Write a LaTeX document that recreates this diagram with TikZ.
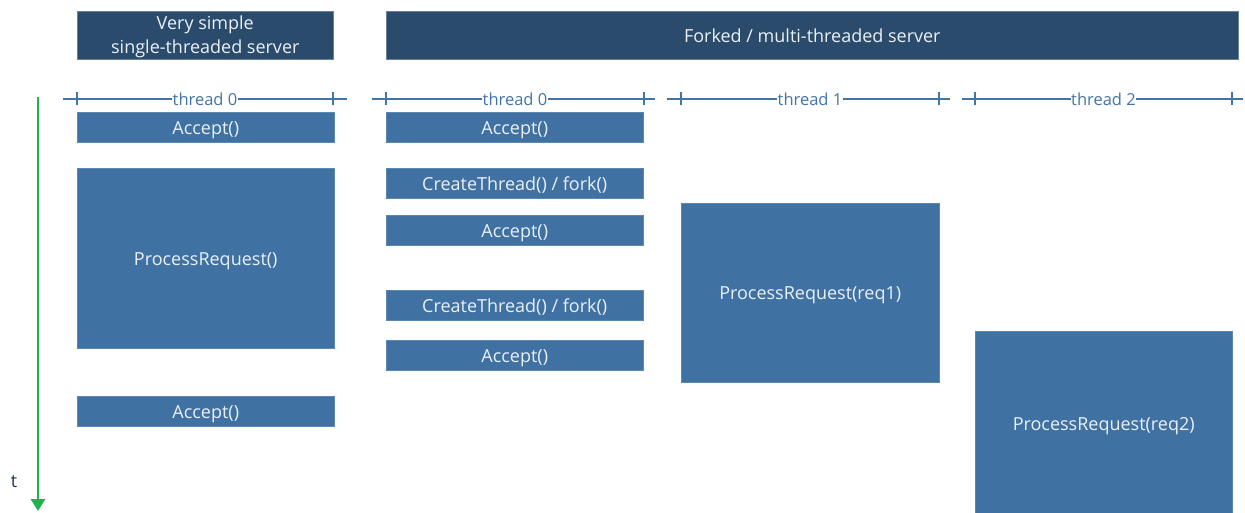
\documentclass[tikz,border=0pt]{standalone}
\usepackage{fontspec}
\setmainfont{Open Sans}
\usetikzlibrary{arrows.meta,calc}
\definecolor{hdr}{HTML}{2A4B6C}
\definecolor{blk}{HTML}{3F72A3}
\definecolor{lane}{HTML}{4374A6}
\definecolor{txt}{HTML}{EAF0F6}
\definecolor{timegreen}{HTML}{1DB24E}
\tikzset{
  header/.style={fill=hdr, draw=hdr!70!white, line width=0.6pt, text=txt, font=\fontsize{18}{24}\selectfont, align=center, inner sep=0pt},
  block/.style={fill=blk, draw=blk!85!white, line width=0.5pt, text=txt, font=\fontsize{18}{21}\selectfont, inner sep=0pt, text height=18pt, text depth=4pt},
  laneline/.style={draw=lane, line width=2.4pt},
  lanetick/.style={draw=lane, line width=2.4pt},
  lanelabel/.style={fill=white, text=lane, font=\fontsize{16.5}{18}\selectfont, inner sep=0.5pt},
}
\begin{document}
\begin{tikzpicture}[x=1pt, y=-1pt]
\useasboundingbox (0,0) rectangle (1245,512);

% headers
\fill[hdr] (77,11) rectangle (333,59);
\node[header, minimum width=256, minimum height=48, anchor=north west, fill=none, draw=none] (h1) at (77,13) {Very simple\\single-threaded server};
\draw[hdr!70!white, line width=0.6pt] (77,11) rectangle (333,59);
\node[header, minimum width=852, minimum height=48, anchor=north west] (h2) at (386,11) {Forked / multi-threaded server};

% time axis
\coordinate (t0) at (38,97);
\coordinate (t1) at (38,511);
\draw[timegreen, line width=2.8pt, -{Triangle[length=12pt, width=14pt]}] (t0) -- (t1);
\node[text=hdr!70!black, font=\fontsize{18}{20}\selectfont] (tl) at (14,482) {t};

% thread lanes
\foreach \nm/\a/\b/\la/\lb/\lbl in {l0/63/347/77/333/thread 0, r0/372/655/386/644/thread 0, r1/667/950/681/939/thread 1, r2/962/1243/975/1232/thread 2}{
  \coordinate (\nm-s) at (\a,99);
  \coordinate (\nm-e) at (\b,99);
  \draw[laneline] (\nm-s) -- (\nm-e);
  \coordinate (\nm-ta) at (\la,99);
  \coordinate (\nm-tb) at (\lb,99);
  \draw[lanetick] ([yshift=-6pt]\nm-ta) -- ([yshift=7pt]\nm-ta);
  \draw[lanetick] ([yshift=-6pt]\nm-tb) -- ([yshift=7pt]\nm-tb);
  \node[lanelabel] (\nm-lbl) at ($(\nm-ta)!0.5!(\nm-tb)$) {\lbl};
}

% single-threaded column
\node[block, minimum width=257, minimum height=30, anchor=north west] (sa1) at (77,112) {Accept()};
\node[block, minimum width=257, minimum height=180, anchor=north west] (sp) at (77,168) {ProcessRequest()};
\node[block, minimum width=257, minimum height=30, anchor=north west] (sa2) at (77,396) {Accept()};

% multi-threaded: thread 0
\node[block, minimum width=257, minimum height=30, anchor=north west] (ma1) at (386,112) {Accept()};
\node[block, minimum width=257, minimum height=30, anchor=north west] (mc1) at (386,168) {CreateThread() / fork()};
\node[block, minimum width=257, minimum height=30, anchor=north west] (ma2) at (386,215) {Accept()};
\node[block, minimum width=257, minimum height=30, anchor=north west] (mc2) at (386,290) {CreateThread() / fork()};
\node[block, minimum width=257, minimum height=30, anchor=north west] (ma3) at (386,340) {Accept()};

% thread 1 and thread 2
\node[block, minimum width=258, minimum height=179, anchor=north west] (p1) at (681,203) {ProcessRequest(req1)};
\node[block, minimum width=257, minimum height=185, anchor=north west] (p2) at (975,331) {ProcessRequest(req2)};
\end{tikzpicture}
\end{document}
